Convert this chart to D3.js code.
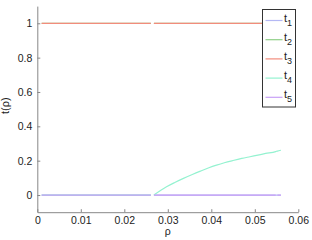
<!DOCTYPE html>
<html>
<head>
<meta charset="utf-8">
<script src="https://cdn.jsdelivr.net/npm/d3@7"></script>
<style>
body { margin: 0; background: #fff; }
text { font-family: "Liberation Sans", Arial, sans-serif; }
</style>
</head>
<body>
<svg width="312" height="240"></svg>
<script>
// rho samples, null marks a break in the curves
var rho = [0.001, 0.0261, 0.0265, 0.0268, 0.0297, 0.0316, 0.0336, 0.0355, 0.0375, 0.0393, 0.0412, 0.043, 0.045, 0.047, 0.0489, 0.051, 0.0525, 0.0548, 0.055, 0.0552, 0.056]
var t1 = [0, 0, null, 0, 0, 0, 0, 0, 0, 0, 0, 0, 0, 0, 0, 0, 0, 0, 0, 0, 0]
var t2 = [1, 1, null, 1, 1, 1, 1, 1, 1, 1, 1, 1, 1, 1, 1, 1, 1, 1, 1, 1, 1]
var t3 = [1, 1, null, 1, 1, 1, 1, 1, 1, 1, 1, 1, 1, 1, 1, 1, 1, 1, 1, 1, 1]
var t4 = [0, 0, null, 0, 0.048, 0.073, 0.097, 0.118, 0.139, 0.157, 0.174, 0.188, 0.201, 0.213, 0.223, 0.234, 0.242, 0.253, 0.255, 0.256, 0.261]
var t5 = [0, 0, null, 0, 0, 0, 0, 0, 0, 0, 0, 0, 0, 0, 0, 0, 0, 0, null, 0, 0]
var names = ["1", "2", "3", "4", "5"]
var colors = ["#b4b8f4", "#90d088", "#f28c7c", "#94f2d0", "#c8a0f6"]
var xTicks = [0, 0.01, 0.02, 0.03, 0.04, 0.05, 0.06]
var yTicks = [0, 0.2, 0.4, 0.6, 0.8, 1]

var svg = d3.select("svg")

var x = d3.scaleLinear().domain([0, 0.06]).range([37.3, 298.3])
var y = d3.scaleLinear().domain([-0.1, 1.1]).range([212.2, 6.1])

// axes (ticks point inward)
var xAxis = d3.axisBottom(x).tickValues(xTicks).tickSizeInner(-3).tickSizeOuter(0).tickPadding(4)
    .tickFormat(function(d){ return d === 0 ? "0" : d3.format(".2f")(d) })
var yAxis = d3.axisLeft(y).tickValues(yTicks).tickSizeInner(-3).tickSizeOuter(0).tickPadding(5)
    .tickFormat(function(d){ return d === 0 || d === 1 ? String(d) : d3.format(".1f")(d) })

var gx = svg.append("g").attr("transform", "translate(0," + y(-0.1) + ")").call(xAxis)
var gy = svg.append("g").attr("transform", "translate(" + x(0) + ",0)").call(yAxis)
;[gx, gy].forEach(function(g){
    g.select(".domain").attr("stroke", "#888")
    g.selectAll(".tick line").attr("stroke", "#888")
    g.selectAll(".tick text").attr("fill", "#222").style("font-size", "10.5px")
        .style("font-family", "'Liberation Sans', Arial, sans-serif")
})

// the series
var series = [t1, t2, t3, t4, t5]
var line = d3.line()
    .defined(function(d){ return d[1] !== null })
    .x(function(d){ return x(d[0]) })
    .y(function(d){ return y(d[1]) })
    .curve(d3.curveMonotoneX)

series.forEach(function(s, i){
    svg.append("path")
        .datum(rho.map(function(r, j){ return [r, s[j]] }))
        .attr("fill", "none")
        .attr("stroke", colors[i])
        .attr("stroke-width", 1.2)
        .attr("d", line)
})

// axis labels
svg.append("text").attr("x", x(0.03)).attr("y", 235).attr("text-anchor", "middle")
    .style("font-size", "10.5px").attr("fill", "#222").text("ρ")
svg.append("text").attr("transform", "translate(9," + y(0.52) + ") rotate(-90)")
    .attr("text-anchor", "middle").style("font-size", "11px").attr("fill", "#222").text("t(ρ)")

// legend
var lg = svg.append("g").attr("transform", "translate(262.5,9.5)")
lg.append("rect").attr("width", 33).attr("height", 97.5)
    .attr("fill", "#fff").attr("stroke", "#333").attr("stroke-width", 1)
names.forEach(function(n, i){
    var yy = 11 + i * 19.2
    lg.append("line").attr("x1", 3).attr("x2", 20).attr("y1", yy).attr("y2", yy)
        .attr("stroke", colors[i]).attr("stroke-width", 1.2)
    var t = lg.append("text").attr("x", 21.5).attr("y", yy + 1).style("font-size", "11px").attr("fill", "#222")
    t.append("tspan").text("t")
    t.append("tspan").attr("dy", 4).style("font-size", "9px").text(n)
})
</script>
</body>
</html>
